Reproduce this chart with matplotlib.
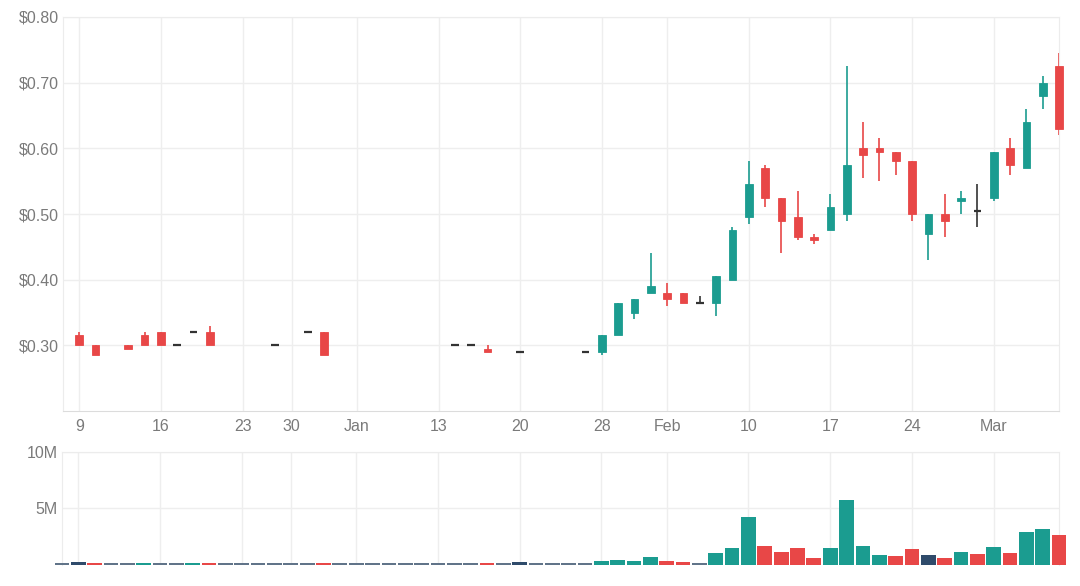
import matplotlib
matplotlib.use("Agg")
import matplotlib.pyplot as plt
import numpy as np

# ---------------- data ----------------
dates = [
    "2024-12-06",
    "2024-12-09", "2024-12-10", "2024-12-11", "2024-12-12", "2024-12-13",
    "2024-12-16", "2024-12-17", "2024-12-18", "2024-12-19", "2024-12-20",
    "2024-12-23", "2024-12-24", "2024-12-27",
    "2024-12-30", "2024-12-31", "2025-01-02", "2025-01-03",
    "2025-01-06", "2025-01-07", "2025-01-08", "2025-01-09", "2025-01-10",
    "2025-01-13", "2025-01-14", "2025-01-15", "2025-01-16", "2025-01-17",
    "2025-01-20", "2025-01-21", "2025-01-22", "2025-01-23", "2025-01-24",
    "2025-01-28", "2025-01-29", "2025-01-30", "2025-01-31",
    "2025-02-03", "2025-02-04", "2025-02-05", "2025-02-06", "2025-02-07",
    "2025-02-10", "2025-02-11", "2025-02-12", "2025-02-13", "2025-02-14",
    "2025-02-17", "2025-02-18", "2025-02-19", "2025-02-20", "2025-02-21",
    "2025-02-24", "2025-02-25", "2025-02-26", "2025-02-27", "2025-02-28",
    "2025-03-03", "2025-03-04", "2025-03-05", "2025-03-06", "2025-03-07",
]
N = None
opens = [N, 0.315, 0.30, N, 0.30, 0.315, 0.32, 0.30, 0.32, 0.32, N,
         N, N, 0.30, N, 0.32, 0.32, N, N, N, N, N, N,
         N, 0.30, 0.30, 0.295, N, 0.29, N, N, N, 0.29,
         0.29, 0.315, 0.35, 0.38, 0.38, 0.38, 0.365, 0.365, 0.40,
         0.495, 0.57, 0.525, 0.495, 0.465, 0.475, 0.50, 0.60, 0.60, 0.595,
         0.58, 0.47, 0.50, 0.52, 0.505, 0.525, 0.60, 0.57, 0.68, 0.725]
highs = [N, 0.32, 0.30, N, 0.30, 0.32, 0.32, 0.30, 0.32, 0.33, N,
         N, N, 0.30, N, 0.32, 0.32, N, N, N, N, N, N,
         N, 0.30, 0.30, 0.30, N, 0.29, N, N, N, 0.29,
         0.315, 0.365, 0.37, 0.44, 0.395, 0.38, 0.375, 0.405, 0.48,
         0.58, 0.575, 0.525, 0.535, 0.47, 0.53, 0.725, 0.64, 0.615, 0.595,
         0.58, 0.50, 0.53, 0.535, 0.545, 0.595, 0.615, 0.66, 0.71, 0.745]
lows = [N, 0.30, 0.285, N, 0.295, 0.30, 0.30, 0.30, 0.32, 0.30, N,
        N, N, 0.30, N, 0.32, 0.285, N, N, N, N, N, N,
        N, 0.30, 0.30, 0.29, N, 0.29, N, N, N, 0.29,
        0.285, 0.315, 0.34, 0.38, 0.36, 0.365, 0.365, 0.345, 0.40,
        0.485, 0.51, 0.44, 0.46, 0.455, 0.475, 0.49, 0.555, 0.55, 0.56,
        0.49, 0.43, 0.465, 0.50, 0.48, 0.52, 0.56, 0.57, 0.66, 0.62]
closes = [N, 0.30, 0.285, N, 0.295, 0.30, 0.30, 0.30, 0.32, 0.30, N,
          N, N, 0.30, N, 0.32, 0.285, N, N, N, N, N, N,
          N, 0.30, 0.30, 0.29, N, 0.29, N, N, N, 0.29,
          0.315, 0.365, 0.37, 0.39, 0.37, 0.365, 0.365, 0.405, 0.475,
          0.545, 0.525, 0.49, 0.465, 0.46, 0.51, 0.575, 0.59, 0.595, 0.58,
          0.50, 0.50, 0.49, 0.525, 0.505, 0.595, 0.575, 0.64, 0.70, 0.63]

# volume in millions of shares
volumes = [0.16, 0.26, 0.16, 0.16, 0.16, 0.2, 0.16, 0.16, 0.2, 0.16, 0.16,
           0.16, 0.16, 0.16, 0.16, 0.16, 0.16, 0.16, 0.16, 0.16, 0.16, 0.16, 0.16,
           0.16, 0.16, 0.16, 0.2, 0.16, 0.24, 0.16, 0.16, 0.16, 0.16,
           0.38, 0.44, 0.38, 0.68, 0.38, 0.26, 0.16, 1.03, 1.47,
           4.23, 1.68, 1.15, 1.47, 0.65, 1.47, 5.73, 1.68, 0.85, 0.76,
           1.38, 0.85, 0.65, 1.15, 0.94, 1.56, 1.03, 2.94, 3.15, 2.65]
# change of close versus the previous session: up / down / flat / none (no change recorded)
vol_dir = ["none", "flat", "down", "none", "none", "up", "none", "none", "up", "down", "none",
           "none", "none", "none", "none", "none", "down", "none", "none", "none", "none", "none", "none",
           "none", "none", "none", "down", "none", "flat", "none", "none", "none", "none",
           "up", "up", "up", "up", "down", "down", "none", "up", "up",
           "up", "down", "down", "down", "down", "up", "up", "up", "up", "down",
           "down", "flat", "down", "up", "down", "up", "down", "up", "up", "down"]

tick_dates = ["2024-12-09", "2024-12-16", "2024-12-23", "2024-12-30", "2025-01-06",
              "2025-01-13", "2025-01-20", "2025-01-28", "2025-02-03", "2025-02-10",
              "2025-02-17", "2025-02-24", "2025-03-03"]
tick_labels = ["9", "16", "23", "30", "Jan", "13", "20", "28", "Feb", "10", "17", "24", "Mar"]

price_ticks = [0.30, 0.40, 0.50, 0.60, 0.70, 0.80]
vol_ticks = [5, 10]

# ---------------- style ----------------
UP = "#1b9c90"
DOWN = "#e84747"
DOJI = "#333333"
FLAT = "#2f4b6b"
NONE = "#617489"
GRID = "#eeeeee"
TXT = "#7a7a7a"

plt.rcParams["font.family"] = ["Liberation Sans", "DejaVu Sans"]

fig = plt.figure(figsize=(10.8, 5.86), dpi=100)
W, H = 1080, 586
ax = fig.add_axes([63 / W, 1 - 411 / H, (1059 - 63) / W, (411 - 17) / H])
axv = fig.add_axes([62 / W, 1 - 565 / H, (1059 - 62) / W, (565 - 451.7) / H])

x = np.arange(len(dates))
tick_pos = [dates.index(d) for d in tick_dates]

body_w = 0.47
for i in x:
    o, h, l, c = opens[i], highs[i], lows[i], closes[i]
    if o is None:
        continue
    if c > o:
        col = UP
    elif c < o:
        col = DOWN
    else:
        col = DOJI
    if h > l:
        ax.vlines(i, l, h, color=col, lw=1.2, zorder=2, clip_on=False)
    if c != o:
        ax.bar(i, c - o, bottom=o, width=body_w, color=col, edgecolor=col,
               lw=0.6, zorder=3, clip_on=False)
    else:
        ax.hlines(o, i - body_w / 2, i + body_w / 2, color=col, lw=1.6, zorder=3,
                  clip_on=False)

ax.set_xlim(0, len(dates) - 1)
ax.set_ylim(0.20, 0.80)
ax.set_yticks(price_ticks)
ax.set_yticklabels([f"${v:.2f}" for v in price_ticks])
ax.set_xticks(tick_pos)
ax.set_xticklabels(tick_labels)
ax.grid(True, color=GRID, lw=1)
ax.set_axisbelow(True)
ax.tick_params(axis="both", length=0, labelsize=11.5, labelcolor=TXT)
ax.tick_params(axis="y", pad=3)
ax.tick_params(axis="x", pad=6)
for s in ["top", "right", "left"]:
    ax.spines[s].set_color("#ececec")
ax.spines["bottom"].set_color("#dcdcdc")

cmap = {"up": UP, "down": DOWN, "flat": FLAT, "none": NONE}
vcols = [cmap[d] for d in vol_dir]
axv.bar(x, volumes, width=0.9, color=vcols, lw=0, zorder=3, clip_on=False)
axv.set_xlim(0, len(dates) - 1)
axv.set_ylim(0, 10)
axv.set_yticks(vol_ticks)
axv.set_yticklabels([f"{v}M" for v in vol_ticks])
axv.set_xticks(tick_pos)
axv.set_xticklabels([])
axv.grid(True, color=GRID, lw=1)
axv.set_axisbelow(True)
axv.tick_params(axis="both", length=0, labelsize=11.5, labelcolor=TXT)
axv.tick_params(axis="y", pad=3)
for s in ["top", "right", "left"]:
    axv.spines[s].set_color("#ececec")
axv.spines["bottom"].set_visible(False)

fig.savefig("out.png", dpi=100, facecolor="white")
